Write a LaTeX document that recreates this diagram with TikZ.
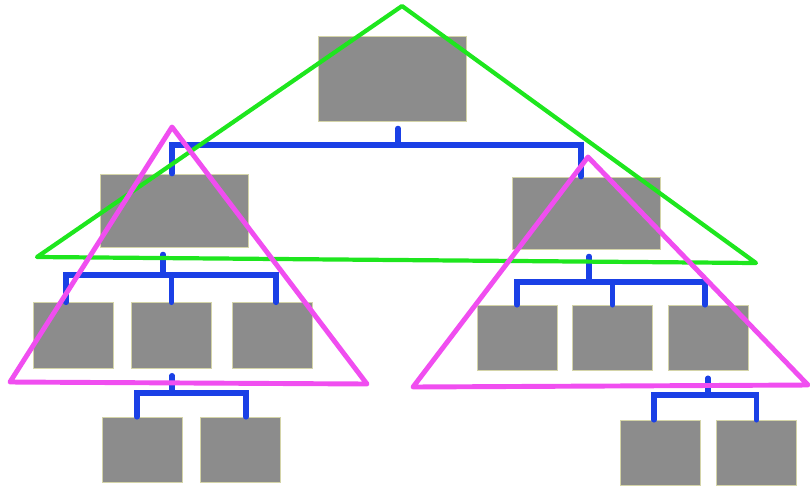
\documentclass[tikz,border=0pt]{standalone}
\usepackage{tikz}

\definecolor{boxgray}{HTML}{8C8C8C}
\definecolor{boxrim}{HTML}{D4D4A8}
\definecolor{linkblue}{HTML}{1A40E6}
\definecolor{bigtri}{HTML}{1EE61E}
\definecolor{subtri}{HTML}{F04EF0}

\tikzset{
  bigbox/.style={draw=boxrim, line width=0.4pt, fill=boxgray, minimum width=2.96cm, inner sep=0pt},
  smallbox/.style={draw=boxrim, line width=0.4pt, fill=boxgray, minimum width=1.6cm, minimum height=1.31cm, inner sep=0pt},
  link/.style={draw=linkblue, line width=3pt, line cap=round},
  tri/.style={line width=2.4pt, line join=round}
}

\begin{document}
\begin{tikzpicture}[x=0.02cm, y=-0.02cm]
\useasboundingbox (0,0) rectangle (810,487);
% Boxes, top level
\node[bigbox, minimum height=1.7cm] (root) at (392.5,78.5) {};
\node[bigbox, minimum height=1.46cm] (l) at (174,210.5) {};
\node[bigbox, minimum height=1.44cm] (r) at (586,213) {};
% Boxes, second level
\node[smallbox] (l1) at (73,335.5) {};
\node[smallbox] (l2) at (171.5,335.5) {};
\node[smallbox] (l3) at (272,335.5) {};
\node[smallbox] (r1) at (517,338) {};
\node[smallbox] (r2) at (612.5,338) {};
\node[smallbox] (r3) at (708.5,338) {};
% Boxes, third level
\node[smallbox] (l21) at (142.5,450) {};
\node[smallbox] (l22) at (240.5,450) {};
\node[smallbox] (r31) at (660.5,453) {};
\node[smallbox] (r32) at (756.5,453) {};
% Connectors from the root
\coordinate (broot) at (398,145);
\draw[link, shorten <=4pt] (root.south -| broot) -- (broot);
\draw[link] ([xshift=-0.04cm]l.north) |- (broot) -| ([xshift=-0.1cm]r.north);
% Connectors, left branch
\coordinate (bl) at (163,275);
\draw[link, shorten <=4pt] (l.south -| bl) -- (bl);
\draw[link] ([xshift=-0.14cm]l1.north) |- (bl) -| ([xshift=0.08cm]l3.north);
\draw[link] (l2.north) -- (l2.north |- bl);
\coordinate (bl2) at (172,393);
\draw[link, shorten <=4pt] (l2.south -| bl2) -- (bl2);
\draw[link] ([xshift=-0.11cm]l21.north) |- (bl2) -| ([xshift=0.11cm]l22.north);
% Connectors, right branch
\coordinate (br) at (589,282);
\draw[link, shorten <=4pt] (r.south -| br) -- (br);
\draw[link] (r1.north) |- (br) -| ([xshift=-0.07cm]r3.north);
\draw[link] (r2.north) -- (r2.north |- br);
\coordinate (br3) at (708,395);
\draw[link, shorten <=4pt] (r3.south -| br3) -- (br3);
\draw[link] ([xshift=-0.13cm]r31.north) |- (br3) -| (r32.north);
% Subtree triangles
\draw[tri, bigtri] (402,6) -- (37,257) -- (756,263) -- cycle;
\draw[tri, subtri, line width=2.8pt] (172,127) -- (10,382) -- (367,384) -- cycle;
\draw[tri, subtri, line width=2.8pt] (588,157) -- (413,387) -- (808,385) -- cycle;
\end{tikzpicture}
\end{document}
